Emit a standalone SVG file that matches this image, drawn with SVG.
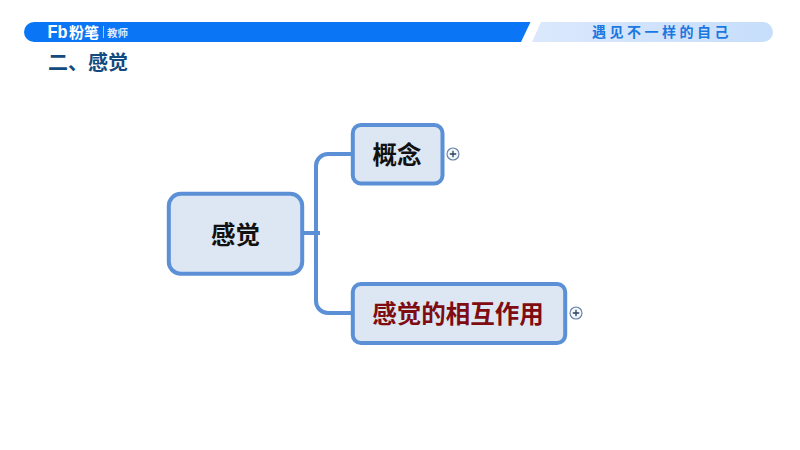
<svg xmlns="http://www.w3.org/2000/svg" width="800" height="450" viewBox="0 0 800 450">
<style>
text{font-family:"Liberation Sans","Noto Sans CJK SC",sans-serif;font-weight:700}
.box{fill:#dde6f3;stroke:#5b90d6;stroke-width:4}
.link{fill:none;stroke:#5b90d6;stroke-width:4}
.lbl{font-size:24.500px;fill:#111;text-anchor:middle}
.plus{fill:#f4f7fb;stroke:#5f7fa6;stroke-width:1.100}
.pm{stroke:#2a4261;stroke-width:1.300}
</style>
<defs><linearGradient id="g" x1="0" x2="1" y1="0" y2="0"><stop offset="0" stop-color="#dbe8fc"/><stop offset="1" stop-color="#c6defb"/></linearGradient></defs>
<rect width="800" height="450" fill="#fff"/>
<g id="header">
<path d="M34 22H530.500L521 42H34A10 10 0 0 1 34 22Z" fill="#0a75f5"/>
<path d="M541 22H763A10 10 0 0 1 763 42H532Z" fill="url(#g)"/>
<text x="47.500" y="38" font-size="18" fill="#fff" textLength="20" lengthAdjust="spacingAndGlyphs">Fb</text>
<text x="69" y="38" font-size="15" fill="#fff">粉笔</text>
<rect x="103" y="26" width="0.800" height="12" fill="#cfe2fd"/>
<text x="107" y="37" font-size="10.500" fill="#dcebff">教师</text>
<text x="592" y="37" font-size="14" fill="#1a78e0" letter-spacing="3.500">遇见不一样的自己</text>
</g>
<text id="title" x="48" y="70" font-size="20" fill="#134a80">二、感觉</text>
<g id="connectors">
<path class="link" d="M351 154H328A12 12 0 0 0 316 166V301A12 12 0 0 0 328 313H351"/>
<path class="link" d="M302 233H320"/>
</g>
<g id="root"><rect class="box" x="168.800" y="193.800" width="133.400" height="80" rx="12"/><text class="lbl" x="235.500" y="243.500">感觉</text></g>
<g id="n1"><rect class="box" x="352.800" y="125" width="89.700" height="58.500" rx="8"/><text class="lbl" x="397" y="164">概念</text></g>
<g id="n2"><rect class="box" x="352.800" y="284" width="212.400" height="59" rx="8"/><text class="lbl" x="458" y="323" style="fill:#7e0c10">感觉的相互作用</text></g>
<g id="plus1"><circle class="plus" cx="453" cy="154" r="6"/><path class="pm" d="M449.800 154H456.200M453 150.800V157.200"/></g>
<g id="plus2"><circle class="plus" cx="576" cy="313" r="6"/><path class="pm" d="M572.800 313H579.200M576 309.800V316.200"/></g>
</svg>
